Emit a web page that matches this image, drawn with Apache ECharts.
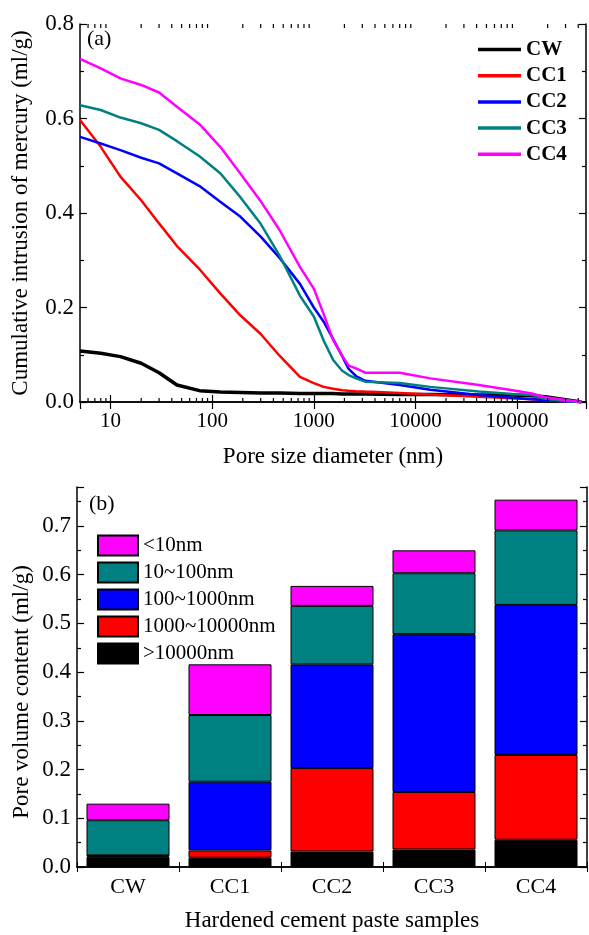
<!DOCTYPE html>
<html><head><meta charset="utf-8">
<script src="https://cdn.jsdelivr.net/npm/echarts@6/dist/echarts.min.js"></script>
<style>html,body{margin:0;padding:0;background:#fff}#c{width:589px;height:935px}</style>
</head><body><div id="c"></div>
<script>
// ---- Panel (a): cumulative intrusion curves ----
const poreSize = [5, 8, 12.5, 20, 30, 45, 75, 120, 190, 300, 460, 730, 1000, 1250, 1550, 1900, 2200, 2600, 3200, 7000, 14000, 42000, 90000, 140000, 190000, 300000, 430000];
const cw  = [0.108,0.103,0.096,0.082,0.062,0.036,0.024,0.021,0.020,0.019,0.019,0.018,0.018,0.018,0.018,0.017,0.017,0.017,0.017,0.016,0.016,0.015,0.015,0.013,0.011,0.005,0.000];
const cc1 = [0.597,0.540,0.477,0.427,0.378,0.330,0.281,0.230,0.183,0.144,0.098,0.053,0.040,0.032,0.028,0.025,0.024,0.023,0.022,0.019,0.016,0.011,0.008,0.006,0.004,0.001,0.000];
const cc2 = [0.561,0.547,0.533,0.517,0.505,0.484,0.457,0.424,0.392,0.350,0.305,0.250,0.200,0.170,0.133,0.097,0.070,0.055,0.045,0.036,0.026,0.015,0.009,0.006,0.004,0.001,0.000];
const cc3 = [0.628,0.618,0.602,0.590,0.576,0.552,0.520,0.484,0.433,0.377,0.310,0.225,0.181,0.130,0.089,0.066,0.057,0.050,0.043,0.040,0.032,0.022,0.017,0.015,0.007,0.002,0.000];
const cc4 = [0.726,0.706,0.685,0.671,0.655,0.625,0.588,0.540,0.483,0.425,0.364,0.286,0.240,0.186,0.131,0.098,0.077,0.071,0.062,0.062,0.050,0.036,0.025,0.018,0.010,0.004,0.000];
const lineNames = ['CW','CC1','CC2','CC3','CC4'];
const xMinorTicks = [6,7,8,9,20,30,40,50,60,70,80,90,200,300,400,500,600,700,800,900,2000,3000,4000,5000,6000,7000,8000,9000,20000,30000,40000,50000,60000,70000,80000,90000,200000,300000,400000];

// ---- Panel (b): pore volume distribution ----
const samples = ['CW','CC1','CC2','CC3','CC4'];
const gt10000     = [0.021,0.019,0.032,0.036,0.056];
const r1000_10000 = [0.002,0.015,0.171,0.118,0.174];
const r100_1000   = [0.001,0.141,0.213,0.324,0.308];
const r10_100     = [0.072,0.137,0.120,0.125,0.153];
const lt10        = [0.034,0.104,0.041,0.047,0.063];
const barNames = ['>10000nm','1000~10000nm','100~1000nm','10~100nm','<10nm'];

const FONT = '"Liberation Serif", "Times New Roman", serif';
const lineColors = ['#000000','#ff0000','#0000ff','#008080','#ff00ff'];
const barColors = ['#000000','#ff0000','#0000ff','#008080','#ff00ff'];

const chart = echarts.init(document.getElementById('c'), null, {renderer:'canvas'});

const lineData = [cw, cc1, cc2, cc3, cc4];
const lineSeries = lineData.map((arr, i) => ({
  name: lineNames[i], type: 'line', xAxisIndex: 0, yAxisIndex: 0,
  data: poreSize.map((d, j) => [d, arr[j]]),
  showSymbol: false, symbol: 'none', smooth: false,
  lineStyle: {color: lineColors[i], width: i === 0 ? 3.5 : 2.5},
  itemStyle: {color: lineColors[i]},
  z: 3 + i
}));

const barData = [gt10000, r1000_10000, r100_1000, r10_100, lt10];
const barSeries = barData.map((arr, i) => ({
  name: barNames[i], type: 'bar', xAxisIndex: 2, yAxisIndex: 2, stack: 'total',
  data: arr, barWidth: 83,
  itemStyle: {color: barColors[i], borderColor: '#000', borderWidth: 1}
}));

const minorTickSeries = {
  type: 'custom', xAxisIndex: 0, yAxisIndex: 0, silent: true, clip: false, z: 10,
  data: xMinorTicks.map(v => [v, 0]),
  encode: {x: 0, y: 1},
  renderItem: function (params, api) {
    const v = api.value(0);
    const b = api.coord([v, 0]);
    const t = api.coord([v, 0.8]);
    const st = {stroke: '#000', lineWidth: 1.2};
    return {type: 'group', children: [
      {type: 'line', shape: {x1: b[0], y1: b[1], x2: b[0], y2: b[1] - 4}, style: st},
      {type: 'line', shape: {x1: t[0], y1: t[1], x2: t[0], y2: t[1] + 4}, style: st}
    ]};
  }
};

const axisLineStyle = {show: true, lineStyle: {color: '#000', width: 1.5}};
const tickStyle = {show: true, inside: true, length: 7, lineStyle: {color: '#000', width: 1.2}};
const minorStyle = {show: true, splitNumber: 2, length: 4, lineStyle: {color: '#000', width: 1.2}};

const option = {
  animation: false,
  backgroundColor: '#fff',
  textStyle: {fontFamily: FONT, color: '#000'},
  grid: [
    {left: 80, top: 24, width: 506, height: 378},
    {left: 77, top: 487, width: 510, height: 380}
  ],
  legend: [
    {
      data: lineNames, orient: 'vertical', left: 478, top: 39, padding: 0,
      icon: 'rect', itemWidth: 43, itemHeight: 3.5, itemGap: 5.2,
      textStyle: {fontFamily: FONT, fontSize: 21, fontWeight: 'bold', color: '#000', lineHeight: 21}
    },
    {
      data: barNames.slice().reverse(), orient: 'vertical', left: 97, top: 534.5, padding: 0,
      itemWidth: 40, itemHeight: 20, itemGap: 5, icon: 'rect',
      textStyle: {fontFamily: FONT, fontSize: 21, color: '#000', lineHeight: 21}
    }
  ],
  xAxis: [
    {
      type: 'log', gridIndex: 0, logBase: 10, min: 5, max: 477000, position: 'bottom',
      name: 'Pore size diameter (nm)', nameLocation: 'middle', nameGap: 43,
      nameTextStyle: {fontFamily: FONT, fontSize: 23, color: '#000'},
      axisLine: axisLineStyle, axisTick: tickStyle,
      axisLabel: {fontFamily: FONT, fontSize: 21, color: '#000', margin: 9, showMinLabel: false, showMaxLabel: false,
        formatter: v => String(Math.round(v))},
      splitLine: {show: false}
    },
    {
      type: 'log', gridIndex: 0, logBase: 10, min: 5, max: 477000, position: 'top',
      axisLine: axisLineStyle, axisTick: tickStyle, axisLabel: {show: false}, splitLine: {show: false}
    },
    {
      type: 'category', gridIndex: 1, data: samples, position: 'bottom',
      name: 'Hardened cement paste samples', nameLocation: 'middle', nameGap: 42,
      nameTextStyle: {fontFamily: FONT, fontSize: 23, color: '#000'},
      axisLine: axisLineStyle, axisTick: {show: true, inside: true, length: 5, lineStyle: {color: '#000'}},
      axisLabel: {fontFamily: FONT, fontSize: 22, color: '#000', margin: 9}
    },
    {
      type: 'category', gridIndex: 1, data: samples, position: 'top',
      axisLine: axisLineStyle, axisTick: {show: true, inside: true, length: 5, lineStyle: {color: '#000'}},
      axisLabel: {show: false}
    }
  ],
  yAxis: [
    {
      type: 'value', gridIndex: 0, min: 0, max: 0.8, interval: 0.2, position: 'left',
      name: 'Cumulative intrusion of mercury (ml/g)', nameLocation: 'middle', nameGap: 48,
      nameTextStyle: {fontFamily: FONT, fontSize: 23, color: '#000'},
      axisLine: axisLineStyle, axisTick: tickStyle, minorTick: minorStyle,
      axisLabel: {fontFamily: FONT, fontSize: 23, color: '#000', margin: 6, formatter: v => v.toFixed(1)},
      splitLine: {show: false}
    },
    {
      type: 'value', gridIndex: 0, min: 0, max: 0.8, interval: 0.2, position: 'right',
      axisLine: axisLineStyle, axisTick: tickStyle, minorTick: minorStyle,
      axisLabel: {show: false}, splitLine: {show: false}
    },
    {
      type: 'value', gridIndex: 1, min: 0, max: 0.78, interval: 0.1, position: 'left',
      axisLine: axisLineStyle, axisTick: tickStyle, minorTick: minorStyle,
      axisLabel: {fontFamily: FONT, fontSize: 23, color: '#000', margin: 6, showMaxLabel: false, formatter: v => v.toFixed(1)},
      splitLine: {show: false}
    },
    {
      type: 'value', gridIndex: 1, min: 0, max: 0.78, interval: 0.1, position: 'right',
      axisLine: axisLineStyle, axisTick: tickStyle, minorTick: minorStyle,
      axisLabel: {show: false}, splitLine: {show: false}
    }
  ],
  graphic: [
    {type: 'text', left: 87, top: 28, style: {text: '(a)', fontFamily: FONT, fontSize: 22, fill: '#000'}},
    {type: 'text', left: 89, top: 493, style: {text: '(b)', fontFamily: FONT, fontSize: 22, fill: '#000'}},
    {type: 'text', x: 22, y: 692, rotation: Math.PI / 2,
      style: {text: 'Pore volume content (ml/g)', fontFamily: FONT, fontSize: 23, fill: '#000', align: 'center', verticalAlign: 'middle'}}
  ],
  series: lineSeries.concat([minorTickSeries]).concat(barSeries)
};
chart.setOption(option);
</script>
</body></html>
